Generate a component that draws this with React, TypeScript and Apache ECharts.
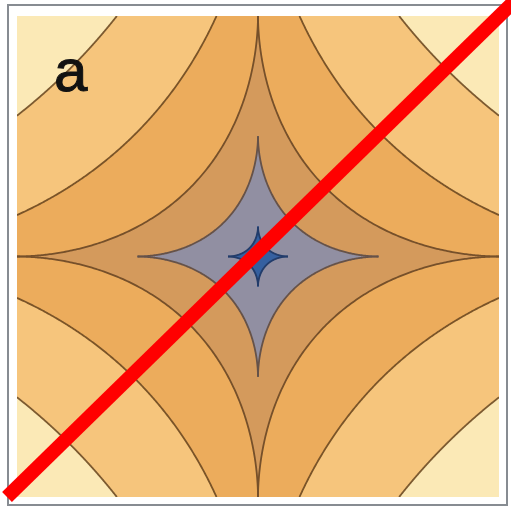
import { useEffect, useRef } from 'react';
import * as echarts from 'echarts';

// Field drawn: f(x, y) = |x|^P + |y|^P over the square [-1, 1] x [-1, 1].
const P = 0.55;
// Contour values, from the centre outwards.
const levels = [0.317, 0.683, 1.0, 1.38, 1.745];
// Band fills: bandColors[i] lies below levels[i]; the last entry lies above the top level.
const bandColors = ['#3560A0', '#918FA2', '#D49A5C', '#ECAC5C', '#F6C57C', '#FBE9B6'];
// Colour of the contour line drawn at each level.
const lineColors = ['#223C6A', '#665248', '#76502A', '#7A5428', '#7C5A30'];
// Quadrant signs around the centre.
const quadrants: [number, number][] = [[1, 1], [-1, 1], [-1, -1], [1, -1]];
const panelLabel = 'a';

const STEPS = 240;

// Part of the first quadrant (clipped to the unit square) where f < c, and its contour line.
function quadrantShape(c: number) {
  const k = 1 / Math.sqrt(c);
  const t0 = k < 1 ? Math.acos(k) : 0;
  const t1 = k < 1 ? Math.asin(k) : Math.PI / 2;
  const R = Math.pow(c, 1 / P);
  const e = 2 / P;
  const curve: [number, number][] = [];
  for (let i = 0; i <= STEPS; i++) {
    const t = t0 + ((t1 - t0) * i) / STEPS;
    curve.push([
      Math.min(1, R * Math.pow(Math.cos(t), e)),
      Math.min(1, R * Math.pow(Math.sin(t), e)),
    ]);
  }
  const fill: [number, number][] = [[0, 0]];
  if (k < 1) fill.push([1, 0]);
  fill.push(...curve);
  if (k < 1) fill.push([0, 1]);
  return { fill, curve };
}

export default function App() {
  const ref = useRef<HTMLDivElement>(null);

  useEffect(() => {
    if (!ref.current) return;
    const chart = echarts.init(ref.current, null, { renderer: 'svg' });

    // Outermost level first, so the inner regions are painted over it.
    const order = levels.map((_, i) => i).sort((a, b) => levels[b] - levels[a]);

    const renderItem = (_params: any, api: any) => {
      const idx = api.value(2) as number;
      const { fill, curve } = quadrantShape(levels[idx]);
      const children: any[] = [];
      for (const [sx, sy] of quadrants) {
        const toPx = (p: [number, number]) => api.coord([sx * p[0], sy * p[1]]);
        children.push({
          type: 'polygon',
          shape: { points: fill.map(toPx) },
          style: { fill: bandColors[idx], stroke: bandColors[idx], lineWidth: 1 },
        });
      }
      for (const [sx, sy] of quadrants) {
        const toPx = (p: [number, number]) => api.coord([sx * p[0], sy * p[1]]);
        children.push({
          type: 'polyline',
          shape: { points: curve.map(toPx) },
          style: { fill: 'none', stroke: lineColors[idx], lineWidth: 1.8 },
        });
      }
      return { type: 'group', children };
    };

    chart.setOption({
      animation: false,
      backgroundColor: '#ffffff',
      grid: {
        left: 17,
        top: 16,
        width: 482,
        height: 481,
        show: true,
        backgroundColor: bandColors[bandColors.length - 1],
        borderWidth: 0,
      },
      xAxis: { type: 'value', min: -1, max: 1, show: false },
      yAxis: { type: 'value', min: -1, max: 1, show: false },
      series: [
        {
          type: 'custom',
          coordinateSystem: 'cartesian2d',
          clip: true,
          silent: true,
          encode: { x: 0, y: 1 },
          renderItem,
          data: order.map((i) => ({ value: [0, 0, i] })),
        },
      ],
      graphic: [
        {
          type: 'rect',
          z: 100,
          silent: true,
          shape: { x: 8, y: 5, width: 499, height: 500 },
          style: { fill: 'none', stroke: '#878C92', lineWidth: 2 },
        },
        {
          type: 'text',
          z: 101,
          silent: true,
          x: 54,
          y: 70,
          style: {
            text: panelLabel,
            font: '60px "Liberation Sans", Arial, sans-serif',
            fill: '#111111',
            stroke: '#111111',
            lineWidth: 1,
            verticalAlign: 'middle',
            align: 'left',
          },
        },
        {
          type: 'line',
          z: 102,
          silent: true,
          shape: { x1: 7, y1: 497, x2: 530, y2: -14 },
          style: { stroke: '#FF0000', lineWidth: 14, lineCap: 'butt' },
        },
      ],
    });

    return () => chart.dispose();
  }, []);

  return (
    <div
      ref={ref}
      style={{ position: 'fixed', left: 0, top: 0, width: 511, height: 507 }}
    />
  );
}
